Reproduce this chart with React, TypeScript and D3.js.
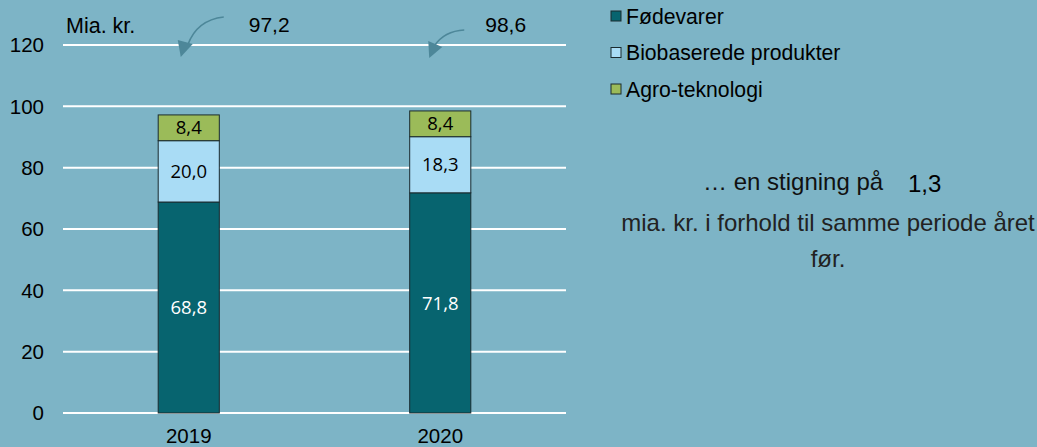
import React, { useRef, useEffect } from 'react';
import * as d3 from 'd3';

const years = ['2019', '2020'];
const seriesKeys = ['Fødevarer', 'Biobaserede produkter', 'Agro-teknologi'];
const foedevarer = [68.8, 71.8];
const biobaserede = [20.0, 18.3];
const agro = [8.4, 8.4];
const totals = ['97,2', '98,6'];
const yTicks = [0, 20, 40, 60, 80, 100, 120];
const colors = ['#07646f', '#a9dcf5', '#9bbb59'];
const labelColors = ['#ffffff', '#000000', '#000000'];

const fmt = (v: number) => v.toFixed(1).replace('.', ',');

const App = () => {
    const ref = useRef<SVGSVGElement | null>(null);

    useEffect(() => {
        if (!ref.current) return;
        document.body.style.margin = '0';
        const svg = d3.select(ref.current);
        svg.selectAll('*').remove();

        const W = 1037, H = 447;
        const font = "'Liberation Sans', Arial, sans-serif";

        svg.append('rect').attr('width', W).attr('height', H).attr('fill', '#7db4c6');

        const x = d3.scaleBand().domain(years).range([63, 566]).padding(0);
        const y = d3.scaleLinear().domain([0, 120]).range([413, 45]);
        const barW = x.bandwidth() * 0.243;

        // grid lines
        svg.append('g')
            .selectAll('line')
            .data(yTicks)
            .join('line')
            .attr('x1', 63)
            .attr('x2', 566)
            .attr('y1', d => y(d))
            .attr('y2', d => y(d))
            .attr('stroke', '#ffffff')
            .attr('stroke-width', 2);

        // y tick labels
        svg.append('g')
            .selectAll('text')
            .data(yTicks)
            .join('text')
            .attr('x', 44)
            .attr('y', d => y(d))
            .attr('dy', '0.36em')
            .attr('text-anchor', 'end')
            .attr('font-family', font)
            .attr('font-size', 20.5)
            .attr('fill', '#000')
            .text(d => d);

        // x labels
        svg.append('g')
            .selectAll('text')
            .data(years)
            .join('text')
            .attr('x', d => x(d)! + x.bandwidth() / 2)
            .attr('y', 443)
            .attr('text-anchor', 'middle')
            .attr('font-family', font)
            .attr('font-size', 20.5)
            .attr('fill', '#000')
            .text(d => d);

        // stacked bars
        const rows = years.map((yr, i) => ({
            year: yr,
            [seriesKeys[0]]: foedevarer[i],
            [seriesKeys[1]]: biobaserede[i],
            [seriesKeys[2]]: agro[i]
        }));
        const stack = d3.stack<any>().keys(seriesKeys)(rows);

        stack.forEach((layer, li) => {
            const g = svg.append('g');
            g.selectAll('rect')
                .data(layer)
                .join('rect')
                .attr('x', d => x(d.data.year)! + (x.bandwidth() - barW) / 2)
                .attr('y', d => y(d[1]))
                .attr('width', barW)
                .attr('height', d => y(d[0]) - y(d[1]))
                .attr('fill', colors[li])
                .attr('stroke', '#1b2b2f')
                .attr('stroke-width', 1);
            g.selectAll('text')
                .data(layer)
                .join('text')
                .attr('x', d => x(d.data.year)! + x.bandwidth() / 2)
                .attr('y', d => (y(d[0]) + y(d[1])) / 2)
                .attr('dy', '0.36em')
                .attr('text-anchor', 'middle')
                .attr('font-family', "'Open Sans', 'Noto Sans', sans-serif")
                .attr('font-size', 18.5)
                .attr('fill', labelColors[li])
                .text(d => fmt(d[1] - d[0]));
        });

        // unit label
        svg.append('text')
            .attr('x', 66)
            .attr('y', 33)
            .attr('font-family', font)
            .attr('font-size', 21.5)
            .text('Mia. kr.');

        // totals with curved arrows
        const arrowColor = '#4d8799';
        years.forEach((yr, i) => {
            const cx = x(yr)! + x.bandwidth() / 2;
            svg.append('text')
                .attr('x', cx + (i === 0 ? 60 : 45))
                .attr('y', 32)
                .attr('font-family', font)
                .attr('font-size', 21)
                .text(totals[i]);
            const path = i === 0
                ? `M${cx + 35},17 Q${cx + 8},20 ${cx - 1},45`
                : `M${cx + 24},30 Q${cx + 4},31 ${cx - 6},46`;
            const head = i === 0
                ? `M${cx - 11},40 L${cx + 4},44 L${cx - 8},57 Z`
                : `M${cx - 12},41 L${cx + 2},47 L${cx - 11},58 Z`;
            svg.append('path')
                .attr('d', path)
                .attr('fill', 'none')
                .attr('stroke', arrowColor)
                .attr('stroke-width', 1.6);
            svg.append('path')
                .attr('d', head)
                .attr('fill', arrowColor);
        });

        // legend
        const legend = svg.append('g')
            .selectAll('g')
            .data(seriesKeys)
            .join('g')
            .attr('transform', (d, i) => `translate(611,${11 + i * 36.5})`);
        legend.append('rect')
            .attr('width', 10)
            .attr('height', 10)
            .attr('fill', (d, i) => colors[i])
            .attr('stroke', '#1b2b2f')
            .attr('stroke-width', 1);
        legend.append('text')
            .attr('x', 15)
            .attr('y', 12.5)
            .attr('font-family', font)
            .attr('font-size', 21.2)
            .attr('fill', '#000')
            .text(d => d);

        // comment text
        svg.append('text')
            .attr('x', 703)
            .attr('y', 190)
            .attr('font-family', font)
            .attr('font-size', 24)
            .attr('fill', '#111')
            .text('… en stigning på');
        svg.append('text')
            .attr('x', 908)
            .attr('y', 192)
            .attr('font-family', font)
            .attr('font-size', 24)
            .attr('fill', '#000')
            .text('1,3');
        svg.append('text')
            .attr('x', 828)
            .attr('y', 231)
            .attr('text-anchor', 'middle')
            .attr('font-family', font)
            .attr('font-size', 24)
            .attr('fill', '#222')
            .text('mia. kr. i forhold til samme periode året');
        svg.append('text')
            .attr('x', 828)
            .attr('y', 267)
            .attr('text-anchor', 'middle')
            .attr('font-family', font)
            .attr('font-size', 24)
            .attr('fill', '#222')
            .text('før.');
    }, []);

    return (
        <svg ref={ref} width={1037} height={447} style={{ display: 'block' }}></svg>
    );
};

export default App;
